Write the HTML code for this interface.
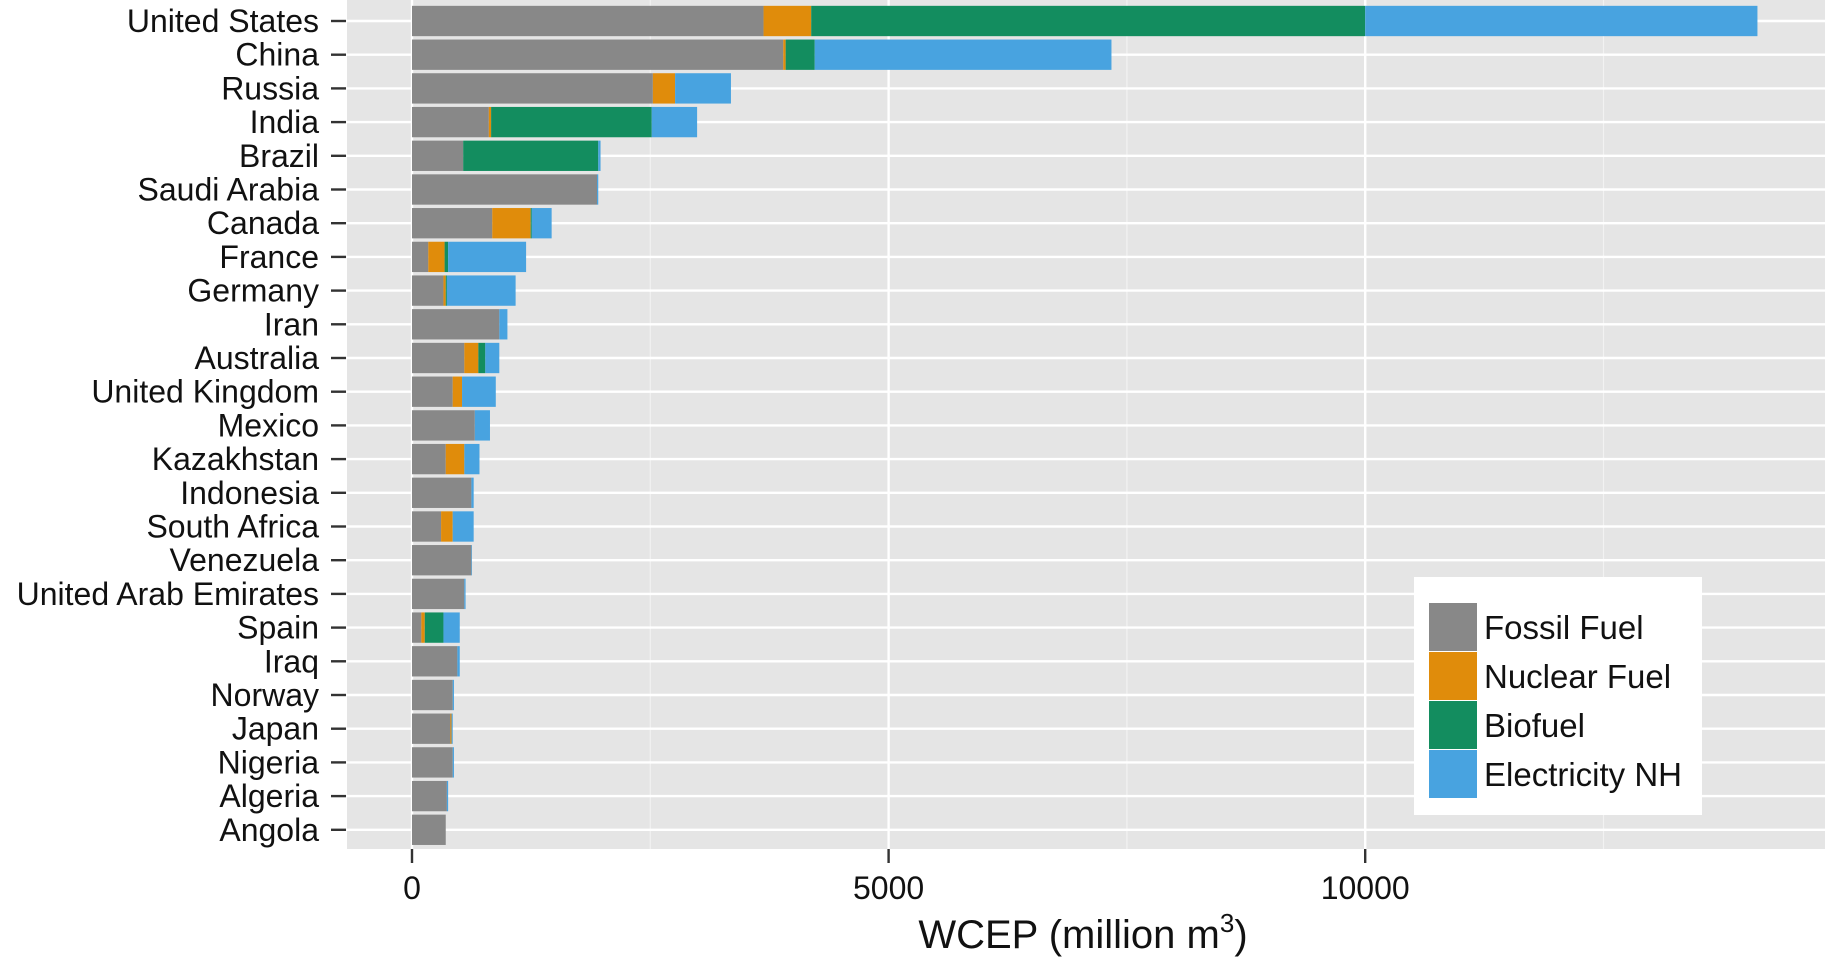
<!DOCTYPE html>
<html><head><meta charset="utf-8"><style>
html,body{margin:0;padding:0;background:#fff;}
svg{display:block;font-family:"Liberation Sans",sans-serif;}
</style></head><body>
<svg id="chart" width="1825" height="959" viewBox="0 0 1825 959" xmlns="http://www.w3.org/2000/svg"></svg>
<script>
const countries = ["United States","China","Russia","India","Brazil","Saudi Arabia","Canada","France","Germany","Iran","Australia","United Kingdom","Mexico","Kazakhstan","Indonesia","South Africa","Venezuela","United Arab Emirates","Spain","Iraq","Norway","Japan","Nigeria","Algeria","Angola"];
const fossil = [3688,3895,2527,806,537,1941,842,171,330,916,549,427,659,354,623,305,623,549,98,476,427,403,427,366,354];
const nuclear = [500,25,233,24,0,0,403,171,24,0,147,98,0,195,0,122,0,0,36,0,0,12,0,0,0];
const biofuel = [5812,305,0,1685,1417,0,12,37,12,0,73,0,0,0,0,0,0,0,196,0,0,0,0,0,0];
const electricity = [4115,3113,586,476,24,13,208,818,721,85,147,354,159,159,24,220,6,13,171,25,13,12,13,13,0];
const xTicks = [0,5000,10000];
const xMinor = [2500,7500,12500];
const seriesNames = ["Fossil Fuel","Nuclear Fuel","Biofuel","Electricity NH"];
const seriesColors = ["#888888","#e08c0b","#138d5f","#48a3e0"];

const svg = document.getElementById('chart');
const NS = "http://www.w3.org/2000/svg";
const P = {l:347, r:1825, t:0, b:849};
const x0px = 412, pxPerUnit = 476.6/5000;
const xs = v => x0px + v*pxPerUnit;
const rowStep = 33.7, row0 = 21;
const ys = i => row0 + i*rowStep;
function mk(tag, attrs){const e=document.createElementNS(NS,tag);for(const k in attrs)e.setAttribute(k,attrs[k]);svg.appendChild(e);return e;}

const panel = mk('rect',{x:P.l,y:P.t,width:P.r-P.l,height:P.b-P.t,fill:'#e5e5e5'});


xMinor.forEach(v=>{const l=mk('line',{x1:xs(v),x2:xs(v),y1:P.t,y2:P.b,stroke:'#f2f2f2','stroke-width':1.2});

});
xTicks.forEach(v=>{const l=mk('line',{x1:xs(v),x2:xs(v),y1:P.t,y2:P.b,stroke:'#fff','stroke-width':2.4});

});
countries.forEach((c,i)=>{const l=mk('line',{x1:P.l,x2:P.r,y1:ys(i),y2:ys(i),stroke:'#fff','stroke-width':2.4});

});

const series=[fossil,nuclear,biofuel,electricity];
const bh = rowStep*0.9;
countries.forEach((c,i)=>{
  let acc=0;
  series.forEach((s,k)=>{
    const v=s[i]; if(v<=0){return;}
    const r=mk('rect',{x:xs(acc),y:ys(i)-bh/2,width:v*pxPerUnit,height:bh,fill:seriesColors[k]});
    
    
    acc+=v;
  });
  const t=mk('text',{x:319,y:ys(i)+11,'text-anchor':'end','font-size':32,fill:'#111'});
  t.textContent=c;
  
  
  const tk=mk('line',{x1:331,x2:346,y1:ys(i),y2:ys(i),stroke:'#333','stroke-width':2.4});
  
  
});
xTicks.forEach(v=>{
  const tk=mk('line',{x1:xs(v),x2:xs(v),y1:P.b,y2:P.b+14,stroke:'#333','stroke-width':2.4});
  
  
  const t=mk('text',{x:xs(v),y:899,'text-anchor':'middle','font-size':32,fill:'#111'});
  t.textContent=v;
  
  
});
const xt=mk('text',{x:1083,y:948,'text-anchor':'middle','font-size':40,fill:'#111'});


xt.innerHTML='WCEP (million m<tspan dy="-16" font-size="26">3</tspan><tspan dy="16">)</tspan>';

const lb=mk('rect',{x:1414,y:577,width:288,height:238,fill:'#fff'});


seriesNames.forEach((n,k)=>{
  const ky=603+k*49;
  const r=mk('rect',{x:1429,y:ky,width:48,height:48,fill:seriesColors[k]});
  
  
  const t=mk('text',{x:1484,y:ky+36,'font-size':33,fill:'#111'});
  t.textContent=n;
  
  
});
</script>
</body></html>
